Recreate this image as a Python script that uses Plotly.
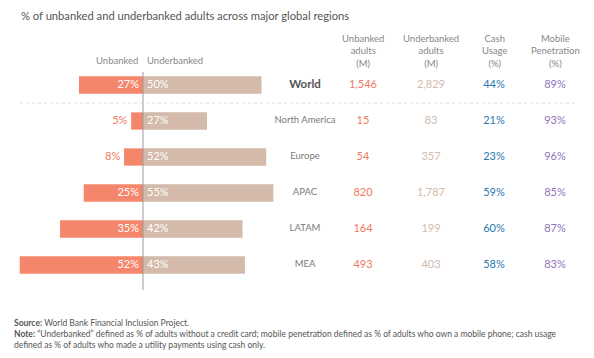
import plotly.graph_objects as go

# ---------------- data ----------------
regions = ["World", "North America", "Europe", "APAC", "LATAM", "MEA"]
unbanked_pct = [27, 5, 8, 25, 35, 52]
underbanked_pct = [50, 27, 52, 55, 42, 43]
unbanked_m = ["1,546", "15", "54", "820", "164", "493"]
underbanked_m = ["2,829", "83", "357", "1,787", "199", "403"]
cash_usage = ["44%", "21%", "23%", "59%", "60%", "58%"]
mobile_pen = ["89%", "93%", "96%", "85%", "87%", "83%"]
col_headers = ["Unbanked<br>adults<br>(M)", "Underbanked<br>adults<br>(M)",
               "Cash<br>Usage<br>(%)", "Mobile<br>Penetration<br>(%)"]

# ---------------- layout helpers ----------------
W, H = 594, 358
CX, SX = 143, 2.37          # centre line pixel, pixels per percent
ROW0, ROWH = 85, 36         # first row centre px, row spacing px


def xd(px):
    return (px - CX) / SX


def yd(py):
    return (py - ROW0) / ROWH


FONT = "Lato"
rows = list(range(len(regions)))
C_UNB = "#F4866C"
C_UND = "#D3BAAA"

fig = go.Figure()
fig.add_trace(go.Bar(y=rows, x=[-v for v in unbanked_pct], orientation="h",
                     marker=dict(color=C_UNB, line=dict(width=0)), width=0.48,
                     hoverinfo="skip", base=0))
fig.add_trace(go.Bar(y=rows, x=underbanked_pct, orientation="h",
                     marker=dict(color=C_UND, line=dict(width=0)), width=0.48,
                     hoverinfo="skip", base=0))

# bar value labels
inside_x, inside_txt, out_x, out_txt, out_y, in_y = [], [], [], [], [], []
for i, v in enumerate(unbanked_pct):
    if v >= 15:
        inside_x.append(xd(CX - 4)); in_y.append(i); inside_txt.append(f"{v}%")
    else:
        out_x.append(-v - 1.6); out_y.append(i); out_txt.append(f"{v}%")
fig.add_trace(go.Scatter(x=inside_x, y=in_y, text=inside_txt, mode="text",
                         textposition="middle left",
                         textfont=dict(family=FONT, size=11, color="white"),
                         hoverinfo="skip"))
fig.add_trace(go.Scatter(x=out_x, y=out_y, text=out_txt, mode="text",
                         textposition="middle left",
                         textfont=dict(family=FONT, size=11, color="#F07A5E"),
                         hoverinfo="skip"))
fig.add_trace(go.Scatter(x=[xd(CX + 4)] * len(rows), y=rows,
                         text=[f"{v}%" for v in underbanked_pct], mode="text",
                         textposition="middle right",
                         textfont=dict(family=FONT, size=11, color="white"),
                         hoverinfo="skip"))

# region labels
fig.add_trace(go.Scatter(x=[xd(305)], y=[0], text=["<b>" + regions[0] + "</b>"],
                         mode="text", textposition="middle center",
                         textfont=dict(family=FONT, size=11.5, color="#555555"),
                         hoverinfo="skip"))
fig.add_trace(go.Scatter(x=[xd(305)] * (len(rows) - 1), y=rows[1:], text=regions[1:],
                         mode="text", textposition="middle center",
                         textfont=dict(family=FONT, size=9.5, color="#7a7a7a"),
                         hoverinfo="skip"))

# table columns
cols = [(363, unbanked_m, "#F07A5E"), (431, underbanked_m, "#D2BBAD"),
        (494, cash_usage, "#2A78B0"), (555, mobile_pen, "#8E74B8")]
for px, vals, col in cols:
    fig.add_trace(go.Scatter(x=[xd(px)] * len(rows), y=rows, text=vals, mode="text",
                             textposition="middle center",
                             textfont=dict(family=FONT, size=11, color=col),
                             hoverinfo="skip"))

fig.update_layout(
    width=W, height=H, margin=dict(l=0, r=0, t=0, b=0),
    paper_bgcolor="white", plot_bgcolor="white", showlegend=False, barmode="overlay",
    xaxis=dict(range=[xd(0), xd(W)], visible=False, fixedrange=True),
    yaxis=dict(range=[yd(H), yd(0)], visible=False, fixedrange=True),
    font=dict(family=FONT),
)

# centre line and separator
fig.add_shape(type="line", x0=0, x1=0, y0=yd(72), y1=yd(290),
              line=dict(color="#9a9a9a", width=1))
fig.add_shape(type="line", x0=xd(20), x1=xd(577), y0=yd(103), y1=yd(103),
              line=dict(color="#dadada", width=1, dash="3px,3px"))


def pa(px, py, text, size, color, xanchor="center", align="center"):
    return dict(x=px / W, y=1 - py / H, xref="paper", yref="paper", xanchor=xanchor,
                yanchor="middle", showarrow=False, text=text, align=align,
                font=dict(family=FONT, size=size, color=color))


ann = [
    pa(19, 15, "% of unbanked and underbanked adults across major global regions",
       11.2, "#555555", xanchor="left", align="left"),
    pa(117, 61, "Unbanked", 9.5, "#888888"),
    pa(175, 61, "Underbanked", 9.5, "#888888"),
]
for px, t in zip([363, 431, 494, 555], col_headers):
    ann.append(pa(px, 51, t, 9.5, "#888888"))
ann.append(pa(12, 334,
              "<b>Source:</b> World Bank Financial Inclusion Project.<br>"
              "<b>Note:</b> \u201cUnderbanked\u201d defined as % of adults without a credit card; "
              "mobile penetration defined as % of adults who own a mobile phone; cash usage<br>"
              "defined as % of adults who made a utility payments using cash only.",
              8.5, "#555555", xanchor="left", align="left"))
fig.update_layout(annotations=ann)

fig.write_html("out.html", config={"displayModeBar": False, "staticPlot": True},
               post_script="document.body.style.margin='0';")
